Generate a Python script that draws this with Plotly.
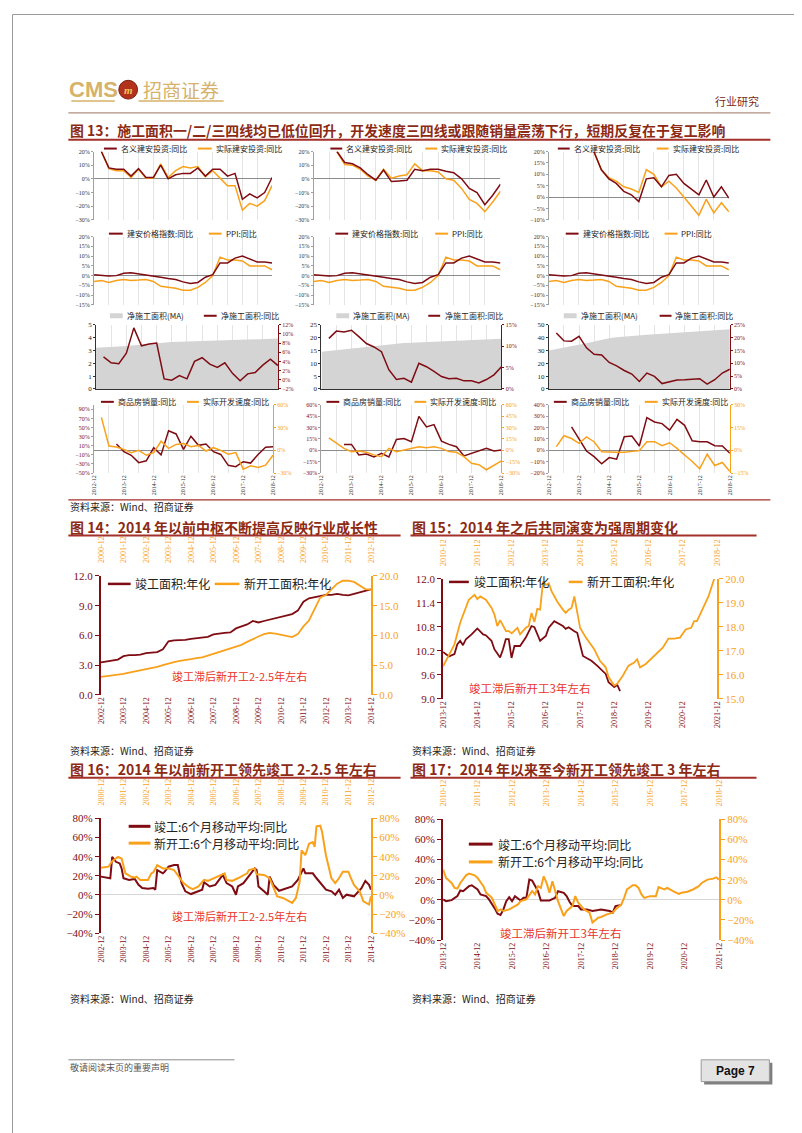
import plotly.graph_objects as go
import pandas as pd

W, H = 802, 1133
DR = "#7E0C12"
OR = "#F9A11B"
GA = "#D4D4D4"
TC = "#8C2A14"
RC = "#A4302A"
AC = "#E8332A"
NUM = "Liberation Serif"
CJK = "Noto Sans CJK SC"

# ---------------- data: figure 13 (quarterly, 2012-12 .. 2018-12) ----------------
def qdates(start, n):
    return [d.strftime("%Y-%m") for d in pd.date_range(start, periods=n, freq="3MS")]

Q = qdates("2012-12-01", 25)
Q_GRID = Q[::2]
Q_TEXT = [q if q.endswith("-12") else "" for q in Q_GRID]

INV_NOM_L = [20, 8, 7, 7, 2, 7.5, 1, 1, 10, 0, 3, 4, 4, 8, 2, 7, 7, 2, 4, -15, -11, -14, -10, 1]
INV_REAL_L = [20, 7.5, 6, 6, 1, 7, 0.5, 0.5, 11, 1, 6, 9, 8, 9, 1.5, 6, 0.5, -5, -5, -23, -18, -20, -16, -5]
INV_NOM_M = [20, 12, 11, 8, 3, -1, 6.5, -2, -1.5, -1, 7, 6, 7, 7, 5.5, 4.5, 0, -7, -10, -19, -12, -4]
INV_REAL_M = [20, 10.5, 10, 7, 2, -1, 7, 0.5, 2, 3, 11, 6, 6, 5, 0, -1, -7, -15, -18, -24, -17, -9]
INV_NOM_R = [20, 12, 8, 6, 2.5, 1, -2, 8, 8.5, 4.5, 9.5, 10, 6, 3.5, 1, 7.5, 0, 4.5, -0.5]
INV_REAL_R = [20, 12, 8.5, 7, 4.5, 3.5, 2, 12, 10, 4.5, 7, 4, 0, -4, -8, -1, -7, -2.5, -6.5]

PRICE = [0.5, 0.3, -0.2, 0, 1.2, 1.5, 1, 0.5, 0, -0.8, -1.5, -2, -3.2, -4, -3.5, -0.8, 0.5, 6.5, 6.5, 9, 10, 8.5, 7, 7, 6.5]
PPI = [-3, -2.5, -3.5, -2.5, -2, -2.5, -2.3, -2, -3, -5.5, -6, -6.5, -7.5, -7.5, -6, -3.5, 0, 9.5, 8, 8, 7.5, 5, 5, 5, 3]

NET_MA_L = [3.2, 3.22, 3.25, 3.3, 3.35, 3.4, 3.45, 3.55, 3.6, 3.65, 3.66, 3.67, 3.68, 3.7, 3.72, 3.74, 3.76, 3.78, 3.8, 3.82, 3.84, 3.86, 3.88, 3.9, 3.92]
NET_YOY_L = [5.0, 3.7, 3.5, 5.8, 11.3, 7.4, 7.8, 8.0, 0.2, -0.1, 0.9, 0.2, 4.0, 4.8, 3.4, 2.7, 3.7, 1.4, -0.2, 1.3, 1.6, 3.2, 4.5, 3.1]
NET_MA_M = [14.5, 14.8, 15.1, 15.4, 15.7, 16.0, 16.3, 16.7, 17.1, 17.4, 17.7, 17.9, 18.0, 18.1, 18.2, 18.3, 18.5, 18.6, 18.7, 18.8, 18.9, 19.0, 19.2, 19.3, 19.5]
NET_YOY_M = [11.8, 13.5, 13.3, 13.7, 12.2, 10.6, 9.8, 8.7, 4.5, 2.2, 2.5, 1.6, 6.0, 5.2, 4.1, 2.9, 2.4, 2.5, 1.9, 1.9, 1.4, 2.2, 3.3, 5.2]
NET_MA_R = [30, 31, 32, 33, 34, 35.5, 37, 38.5, 39.5, 40.2, 40.8, 41.3, 41.8, 42.2, 42.6, 43, 43.4, 43.8, 44.2, 44.6, 45, 45.3, 45.6, 46, 46.5]
NET_YOY_R = [21.8, 18.7, 18.6, 20.5, 16.0, 13.5, 13.2, 10.3, 9.0, 7.2, 5.8, 2.9, 6.2, 4.9, 2.1, 2.9, 3.5, 3.6, 3.8, 4.0, 1.9, 3.6, 6.2, 7.7]

SALES_L = [14, -3, -11, -27, -23, 5.6, -10, 43, 36, 2, 31, 11, 14, -3, -9, -33, -36, -25, -28, -9, 7, 7.7]
DEV_L = [43.5, 5.7, 4.3, 1.3, -3, 0, -6.5, -3, 12, 2.6, 7.8, 9, 4.8, 6.5, -0.9, 3.5, 0, -5.2, -3, -24.8, -20.4, -22.6, -19.6, -6.5]
SALES_M = [7.8, 7.8, -6, -5, -8.7, -4, -8.7, 14.3, 15.6, 11.3, 44.8, 30.9, 33.9, 12.2, 7.8, 4.8, -7.4, -3.9, -0.9, 2.6, -0.9, 0.4]
DEV_M = [16.5, 9, 2.6, -1.7, -0.9, -2.6, -6, -8.3, 2.6, -1.7, 0.4, 2.6, 4.8, 3.5, 4.8, 2.6, -1.7, -2.6, -8.3, -17, -19, -25.6, -20, -13.9]
SALES_R = [20.6, 10.4, -0.6, -5.5, -11.9, -6.4, -7.8, 11.9, 12.5, 3.8, 28.7, 24.9, 23.5, 17.7, 27.2, 22, 8.4, 7.5, 7.5, 4.1, 3.8, -2.6]
DEV_R = [2.4, 9.6, 7.8, 4.6, 8.9, 5.7, -0.9, -1.3, -1.3, -1.3, -0.9, -0.2, 5.7, 5.7, 3, 5, 1.3, -3, -7.4, -12.2, -2.6, -10, -8, -13.9]

# ---------------- data: figure 14 ----------------
Q14_COMP = qdates("2002-12-01", 49)
Q14_NEW = qdates("2000-12-01", 49)
COMP14 = [3.27, 3.35, 3.45, 3.55, 3.9, 4.0, 4.0, 4.05, 4.2, 4.25, 4.3, 4.6, 5.4, 5.5, 5.5, 5.55, 5.65, 5.7, 5.75, 5.85,
          6.1, 6.2, 6.25, 6.3, 6.7, 6.9, 7.1, 7.45, 7.3, 7.45, 7.6, 7.7, 7.9, 8.05, 8.15, 8.5, 9.4, 9.75, 9.85, 10.0,
          10.1, 10.1, 10.2, 10.1, 10.05, 10.2, 10.35, 10.5, 10.65]
NEW14 = [3.0, 3.1, 3.2, 3.35, 3.5, 3.7, 3.9, 4.05, 4.2, 4.45, 4.7, 5.0, 5.3, 5.5, 5.7, 5.9, 6.0, 6.15, 6.3, 6.6,
         6.9, 7.2, 7.5, 7.75, 8.0, 8.4, 8.9, 9.4, 9.8, 10.2, 10.4, 10.3, 10.1, 10.0, 9.7, 10.2, 11.5, 12.5, 14.6, 16.4,
         16.8, 17.8, 18.7, 19.2, 19.2, 19.0, 18.4, 17.8, 17.7]
T14_BOTTOM = [f"{y}-12" for y in range(2002, 2015)]
T14_TOP = [f"{y}-12" for y in range(2000, 2013)]

# ---------------- data: figure 15 ----------------
D15_COMP = ["2013-12", "2014-02", "2014-04", "2014-05", "2014-06", "2014-07", "2014-08", "2014-10", "2014-12", "2015-02",
            "2015-03", "2015-05", "2015-06", "2015-08", "2015-09", "2015-10", "2015-11", "2015-12", "2016-01", "2016-03",
            "2016-05", "2016-07", "2016-08", "2016-10", "2016-12", "2017-01", "2017-03", "2017-05", "2017-06", "2017-07",
            "2017-08", "2017-10", "2017-11", "2017-12", "2018-01", "2018-04", "2018-06", "2018-09", "2018-10", "2018-12",
            "2019-01", "2019-02"]
V15_COMP = [10.17, 10.06, 10.12, 10.36, 10.45, 10.34, 10.49, 10.61, 10.76, 10.61,
            10.59, 10.45, 10.24, 10.03, 10.24, 10.49, 10.49, 10.02, 10.32, 10.32,
            10.53, 10.82, 10.79, 10.45, 10.57, 10.78, 10.94, 10.86, 10.82, 10.75,
            10.79, 10.69, 10.65, 10.36, 10.07, 9.95, 9.83, 9.62, 9.41, 9.29,
            9.35, 9.19]
D15_NEW = ["2010-12", "2011-02", "2011-04", "2011-06", "2011-08", "2011-09", "2011-11", "2011-12", "2012-01", "2012-03",
           "2012-05", "2012-06", "2012-07", "2012-08", "2012-10", "2012-11", "2012-12", "2013-02", "2013-03", "2013-05",
           "2013-06", "2013-07", "2013-08", "2013-09", "2013-10", "2013-11", "2013-12", "2014-01", "2014-02", "2014-04",
           "2014-06", "2014-07", "2014-08", "2014-09", "2014-10", "2014-11", "2014-12", "2015-02", "2015-05", "2015-07",
           "2015-09", "2015-10", "2015-12", "2016-01", "2016-03", "2016-05", "2016-07", "2016-08", "2016-09", "2016-11",
           "2017-02", "2017-05", "2017-07", "2017-09", "2017-11", "2018-01", "2018-03", "2018-04", "2018-05", "2018-07",
           "2018-09", "2018-11"]
V15_NEW = [16.35, 16.8, 17.27, 18.17, 18.79, 19.13, 19.34, 19.16, 19.27, 19.13,
           18.79, 18.51, 18.03, 18.28, 17.82, 17.82, 17.73, 17.96, 17.69, 17.96,
           18.03, 18.58, 18.2, 18.75, 18.72, 19.89, 19.75, 19.82, 19.48, 19.06,
           18.72, 18.58, 18.72, 18.79, 19.27, 18.58, 17.96, 17.55, 17.07, 16.58,
           16.31, 15.9, 15.55, 15.62, 15.96, 16.38, 16.51, 16.65, 16.31, 16.45,
           16.79, 17.13, 17.51, 17.51, 17.55, 17.89, 17.96, 18.24, 18.24, 18.72,
           19.27, 20.0]
T15_BOTTOM = [f"{y}-12" for y in range(2013, 2022)]
T15_TOP = [f"{y}-12" for y in range(2010, 2019)]

# ---------------- data: figure 16 ----------------
D16_COMP = ["2002-12", "2003-03", "2003-05", "2003-06", "2003-08", "2003-10", "2003-11", "2003-12", "2004-03", "2004-06",
            "2004-08", "2004-10", "2005-01", "2005-04", "2005-05", "2005-06", "2005-09", "2005-10", "2005-12", "2006-03",
            "2006-05", "2006-07", "2006-09", "2006-12", "2007-03", "2007-06", "2007-07", "2007-10", "2008-01", "2008-05",
            "2008-07", "2008-10", "2008-12", "2009-01", "2009-04", "2009-08", "2009-10", "2009-11", "2009-12", "2010-03",
            "2010-05", "2010-06", "2010-08", "2010-11", "2011-03", "2011-06", "2011-09", "2011-12", "2012-01", "2012-05",
            "2012-07", "2012-09", "2012-12", "2013-03", "2013-05", "2013-07", "2013-09", "2013-11", "2014-03", "2014-07",
            "2014-09", "2014-11", "2014-12"]
V16_COMP = [19.1, 18.1, 17.4, 39.8, 34.6, 32.9, 27.7, 17.4, 15.7, 16.7,
            10.5, 7.1, 6.4, 7.1, 5.4, 26.0, 22.6, 24.3, 29.5, 31.2,
            31.2, 12.3, 3.7, 0.9, 3.0, 5.4, 13.3, 8.8, 10.5, 20.9,
            12.3, 8.8, 0.2, 8.8, 12.3, 22.6, 27.7, 26.0, 8.8, 3.7,
            0.2, 19.1, 10.5, 4.3, 7.1, 8.8, 15.7, 27.7, 22.6, 22.6,
            17.4, 12.3, 5.4, 3.7, 0.2, 5.4, -3.2, 0.2, -1.5, 7.1,
            14.7, 10.5, 5.4]
D16_NEW = ["2000-12", "2001-04", "2001-06", "2001-09", "2001-11", "2002-01", "2002-04", "2002-06", "2002-07", "2002-09",
           "2003-01", "2003-03", "2003-04", "2003-06", "2003-09", "2003-12", "2004-03", "2004-05", "2004-08", "2004-11",
           "2005-01", "2005-04", "2005-07", "2005-09", "2005-12", "2006-04", "2006-06", "2006-07", "2006-10", "2007-01",
           "2007-06", "2007-07", "2007-10", "2007-11", "2008-03", "2008-06", "2008-08", "2008-10", "2009-01", "2009-03",
           "2009-06", "2009-08", "2009-10", "2009-11", "2010-01", "2010-03", "2010-05", "2010-06", "2010-07", "2010-09",
           "2010-10", "2010-12", "2011-03", "2011-05", "2011-07", "2011-09", "2011-12", "2012-01", "2012-03", "2012-06",
           "2012-08", "2012-11", "2012-12"]
V16_NEW = [28.4, 29.5, 35.3, 39.8, 38.0, 22.6, 19.1, 18.1, 19.1, 15.7,
           15.7, 22.6, 23.6, 31.2, 27.7, 27.7, 26.0, 20.9, 12.3, 7.8,
           6.1, 8.8, 15.7, 14.7, 17.4, 20.9, 22.6, 15.7, 14.7, 17.4,
           22.6, 26.0, 27.7, 21.5, 20.9, 17.4, 8.8, -1.5, -3.2, -4.9,
           -8.4, -3.2, 14.0, 46.6, 41.5, 53.5, 55.2, 50.1, 71.7, 72.4,
           65.5, 41.5, 17.4, 12.3, 17.4, 24.3, 24.3, 19.1, 10.5, 3.7,
           -6.7, -10.1, -1.5]

# ---------------- data: figure 17 ----------------
D17_COMP = ["2013-12", "2014-01", "2014-03", "2014-05", "2014-06", "2014-07", "2014-09", "2014-10", "2014-12", "2015-01",
            "2015-03", "2015-04", "2015-06", "2015-07", "2015-08", "2015-09", "2015-10", "2015-11", "2015-12", "2016-01",
            "2016-03", "2016-04", "2016-05", "2016-06", "2016-07", "2016-08", "2016-09", "2016-10", "2016-12", "2017-01",
            "2017-03", "2017-04", "2017-06", "2017-07", "2017-08", "2017-09", "2017-11", "2017-12", "2018-02", "2018-04",
            "2018-06", "2018-07", "2018-10", "2018-11", "2018-12", "2019-02"]
V17_COMP = [0.4, -1.3, -0.3, 3.7, 9.3, 8.6, 13.6, 14.5, 10.3, 5.3,
            3.7, 0.4, -8.5, -13.8, -15.1, -9.5, -1.3, 2.7, -1.3, 3.7,
            -0.6, 2.0, 2.0, 20.1, 19.1, 13.6, 8.6, -0.6, -0.6, -0.6,
            2.0, 8.6, 7.0, 3.7, -1.9, -6.2, -6.2, -9.5, -9.5, -11.1,
            -10.1, -9.5, -11.1, -12.8, -6.2, -5.2]
D17_NEW = ["2010-12", "2011-01", "2011-03", "2011-04", "2011-05", "2011-06", "2011-08", "2011-09", "2011-11", "2011-12",
           "2012-02", "2012-03", "2012-05", "2012-06", "2012-07", "2012-08", "2012-09", "2012-11", "2012-12", "2013-02",
           "2013-03", "2013-05", "2013-06", "2013-07", "2013-08", "2013-09", "2013-10", "2013-11", "2013-12", "2014-01",
           "2014-02", "2014-03", "2014-04", "2014-06", "2014-07", "2014-09", "2014-10", "2014-11", "2015-01", "2015-03",
           "2015-04", "2015-06", "2015-07", "2015-09", "2015-11", "2015-12", "2016-02", "2016-03", "2016-04", "2016-06",
           "2016-07", "2016-08", "2016-09", "2016-10", "2016-12", "2017-02", "2017-03", "2017-05", "2017-06", "2017-08",
           "2017-10", "2017-11", "2018-01", "2018-03", "2018-05", "2018-06", "2018-08", "2018-10", "2018-11", "2018-12"]
V17_NEW = [30.0, 21.8, 16.8, 11.9, 11.2, 16.8, 24.4, 26.1, 24.4, 21.8,
           13.6, 7.0, 2.0, -4.5, -11.1, -9.5, -11.1, -9.5, -7.8, -4.5,
           -1.3, 0.4, 4.7, 8.6, 5.3, 13.6, 11.9, 23.4, 16.8, 7.0,
           18.5, 8.6, -1.3, -16.1, -11.1, -6.2, 3.7, -2.9, -9.5, -12.8,
           -22.6, -17.7, -17.0, -14.4, -12.8, -9.5, -4.5, 2.0, 10.3, 14.5,
           14.5, 11.9, 5.3, 2.0, 3.7, 3.7, 12.6, 10.3, 11.9, 8.6,
           6.0, 7.0, 8.0, 10.3, 13.6, 16.8, 20.1, 21.1, 22.4, 20.1]

# ---------------- texts ----------------
T13 = "图 13：施工面积一/二/三四线均已低位回升，开发速度三四线或跟随销量震荡下行，短期反复在于复工影响"
T14 = "图 14：2014 年以前中枢不断提高反映行业成长性"
T15 = "图 15：2014 年之后共同演变为强周期变化"
T16 = "图 16：2014 年以前新开工领先竣工 2-2.5 年左右"
T17 = "图 17：2014 年以来至今新开工领先竣工 3 年左右"
SRC = "资料来源：Wind、招商证券"

# ---------------- helpers ----------------
PX = lambda x: x / W
PY = lambda y: 1 - y / H

layout = dict(width=W, height=H, autosize=False, margin=dict(l=0, r=0, t=0, b=0),
              paper_bgcolor="white", plot_bgcolor="white", showlegend=False, hovermode=False)
shapes, annos, traces = [], [], []
cnt = {"x": 0, "y": 0}


def new_axis(kind, **kw):
    cnt[kind] += 1
    n = cnt[kind]
    ref = kind if n == 1 else f"{kind}{n}"
    key = f"{kind}axis" if n == 1 else f"{kind}axis{n}"
    layout[key] = kw
    return ref, key


def line_trace(x, y, xr, yr, color, width=1.5):
    traces.append(go.Scatter(x=x, y=y, xaxis=xr, yaxis=yr, mode="lines",
                             line=dict(color=color, width=width), hoverinfo="skip"))


def area_trace(x, y, xr, yr):
    traces.append(go.Scatter(x=x, y=y, xaxis=xr, yaxis=yr, mode="lines", fill="tozeroy",
                             fillcolor=GA, line=dict(color=GA, width=0), hoverinfo="skip"))


def text(x, y, s, size=10, color="#222", family=CJK, anchor="left", yanchor="middle"):
    annos.append(dict(text=s, x=PX(x), y=PY(y), xref="paper", yref="paper", xanchor=anchor,
                      yanchor=yanchor, showarrow=False, font=dict(size=size, color=color, family=family)))


def hline(x0, x1, y, color, width=1):
    shapes.append(dict(type="line", xref="paper", yref="paper", x0=PX(x0), x1=PX(x1), y0=PY(y), y1=PY(y),
                       line=dict(color=color, width=width)))


def legend_item(x0, x1, y, color, s, tx, size=8, lw=2):
    hline(x0, x1, y, color, lw)
    text(tx, y, s, size=size, color="#222")


def small_x(x0, x1, labels=False, baseline=False):
    return dict(domain=[PX(x0), PX(x1)], type="date", range=[Q[0], Q[-1]], tickvals=Q_GRID,
                ticktext=Q_TEXT, showticklabels=labels, tickangle=-90, ticks="",
                tickfont=dict(family=NUM, size=6, color="#333"), showgrid=True, gridcolor="#E4E4E4",
                gridwidth=1, zeroline=False, showline=baseline, linecolor="#333", linewidth=1)


def pct_y(top, bottom, lo, hi, step, color="#333", zero=True, linecolor="#A0A0A0"):
    return dict(domain=[PY(bottom), PY(top)], range=[lo, hi], tick0=lo, dtick=step, ticksuffix="%",
                showgrid=False, zeroline=zero, zerolinecolor="#8C8C8C", zerolinewidth=1,
                showline=True, linecolor=linecolor, linewidth=1, ticks="outside", ticklen=2,
                tickcolor=linecolor, tickfont=dict(family=NUM, size=6, color=color))


# ---------------- figure 13 rows ----------------
def single_panel(x0, x1, top, bottom, lo, hi, step):
    xr, xk = new_axis("x", **small_x(x0, x1))
    yr, yk = new_axis("y", **pct_y(top, bottom, lo, hi, step))
    layout[xk]["anchor"] = yr
    layout[yk]["anchor"] = xr
    return xr, yr


R1 = (139, 208)
for (x0, x1, lo, hi, step, k, nom, real) in [
        (83, 263, -30, 20, 10, 1, INV_NOM_L, INV_REAL_L),
        (305, 494, -30, 20, 10, 3, INV_NOM_M, INV_REAL_M),
        (543, 725, -10, 20, 5, 6, INV_NOM_R, INV_REAL_R)]:
    xr, yr = single_panel(x0, x1, R1[0], R1[1], lo, hi, step)
    line_trace(Q[k:], real, xr, yr, OR)
    line_trace(Q[k:], nom, xr, yr, DR)

R2 = (225, 294)
for (x0, x1) in [(83, 263), (305, 494), (543, 725)]:
    xr, yr = single_panel(x0, x1, R2[0], R2[1], -15, 20, 5)
    line_trace(Q, PPI, xr, yr, OR)
    line_trace(Q, PRICE, xr, yr, DR)

R3 = (314, 379)
for (x0, x1, lhi, lstep, rlo, rhi, rstep, ma, yoy) in [
        (85, 269, 5, 1, -2, 12, 2, NET_MA_L, NET_YOY_L),
        (313, 495, 25, 5, 0, 15, 5, NET_MA_M, NET_YOY_M),
        (543, 726, 50, 10, 0, 25, 5, NET_MA_R, NET_YOY_R)]:
    xr, xk = new_axis("x", **small_x(x0, x1, baseline=True))
    yr, yk = new_axis("y", domain=[PY(R3[1]), PY(R3[0])], range=[0, lhi], dtick=lstep, tick0=0,
                      showgrid=False, zeroline=False, showline=True, linecolor="#333", linewidth=1,
                      ticks="outside", ticklen=2, tickcolor="#333",
                      tickfont=dict(family=NUM, size=7, color="#222"))
    yr2, yk2 = new_axis("y", overlaying=yr, side="right", range=[rlo, rhi], tick0=rlo, dtick=rstep,
                        ticksuffix="%", showgrid=False, zeroline=False, showline=True, linecolor=DR,
                        linewidth=1, ticks="outside", ticklen=2, tickcolor=DR,
                        tickfont=dict(family=NUM, size=6, color=DR))
    layout[xk]["anchor"] = yr
    layout[yk]["anchor"] = xr
    layout[yk2]["anchor"] = xr
    area_trace(Q, ma, xr, yr)
    line_trace(Q[1:], yoy, xr, yr2, DR)

R4 = (395, 464)
for (x0, x1, l, r, sales, dev) in [
        (83, 264, (-50, 100, 20), (-30, 60, 30), SALES_L, DEV_L),
        (313, 495, (-30, 60, 15), (-30, 60, 15), SALES_M, DEV_M),
        (543, 726, (-20, 40, 10), (-15, 30, 15), SALES_R, DEV_R)]:
    xr, xk = new_axis("x", **small_x(x0, x1, labels=True))
    yr, yk = new_axis("y", **pct_y(R4[0], R4[1], l[0], l[1], l[2], color=DR))
    yr2, yk2 = new_axis("y", overlaying=yr, side="right", range=[r[0], r[1]], tick0=r[0], dtick=r[2],
                        ticksuffix="%", showgrid=False, zeroline=False, showline=True, linecolor=OR,
                        linewidth=1, ticks="outside", ticklen=2, tickcolor=OR,
                        tickfont=dict(family=NUM, size=6, color=OR))
    layout[xk]["anchor"] = yr
    layout[yk]["anchor"] = xr
    layout[yk2]["anchor"] = xr
    line_trace(Q[3:], sales, xr, yr, DR)
    line_trace(Q[1:], dev, xr, yr2, OR)


# ---------------- figures 14 - 17 ----------------
def big_panel(x0, x1, top, bottom, b_ticks, t_ticks, ly, ry):
    xr, xk = new_axis("x", domain=[PX(x0), PX(x1)], type="date", range=[b_ticks[0], b_ticks[-1]],
                      tickvals=b_ticks, ticktext=b_ticks, tickangle=-90, ticks="",
                      tickfont=dict(family=NUM, size=8, color=DR), showgrid=False, zeroline=False,
                      showline=False)
    yr, yk = new_axis("y", domain=[PY(bottom), PY(top)], **ly)
    xr2, xk2 = new_axis("x", type="date", overlaying=xr, side="top", range=[t_ticks[0], t_ticks[-1]],
                        tickvals=t_ticks, ticktext=t_ticks, tickangle=-90, ticks="",
                        tickfont=dict(family=NUM, size=8, color=OR), showgrid=False, zeroline=False,
                        showline=False, ticklabelstandoff=12)
    yr2, yk2 = new_axis("y", overlaying=yr, side="right", **ry)
    layout[xk]["anchor"] = yr
    layout[yk]["anchor"] = xr
    layout[xk2]["anchor"] = yr
    layout[yk2]["anchor"] = xr
    return xr, yr, xr2, yr2


def val_axis(lo, hi, step, color, fmt=None, suffix="", zero=False):
    d = dict(range=[lo, hi], tick0=lo, dtick=step, showgrid=False, zeroline=zero, zerolinecolor="#D6D6D6",
             zerolinewidth=1, showline=True, linecolor=color, linewidth=2, ticks="outside", ticklen=4,
             tickcolor=color, tickfont=dict(family=NUM, size=11, color=color), ticksuffix=suffix)
    if fmt:
        d["tickformat"] = fmt
    return d


xr, yr, xr2, yr2 = big_panel(90, 363, 568, 688, T14_BOTTOM, T14_TOP,
                             val_axis(0, 12, 3, DR, ".1f"), val_axis(0, 20, 5, OR, ".1f"))
line_trace(Q14_COMP, COMP14, xr, yr, DR, 1.8)
line_trace(Q14_NEW, NEW14, xr2, yr2, OR, 1.8)

xr, yr, xr2, yr2 = big_panel(436, 713, 571, 692, T15_BOTTOM, T15_TOP,
                             val_axis(9, 12, 0.6, DR, ".1f"), val_axis(15, 20, 1, OR, ".1f"))
line_trace(D15_COMP, V15_COMP, xr, yr, DR, 1.8)
line_trace(D15_NEW, V15_NEW, xr2, yr2, OR, 1.8)

xr, yr, xr2, yr2 = big_panel(90, 363, 813, 929, T14_BOTTOM, T14_TOP,
                             val_axis(-40, 80, 20, DR, suffix="%", zero=True),
                             val_axis(-40, 80, 20, OR, suffix="%"))
line_trace(D16_COMP, V16_COMP, xr, yr, DR, 2)
line_trace(D16_NEW, V16_NEW, xr2, yr2, OR, 2)

xr, yr, xr2, yr2 = big_panel(436, 715, 814, 936, T15_BOTTOM, T15_TOP,
                             val_axis(-40, 80, 20, DR, suffix="%", zero=True),
                             val_axis(-40, 80, 20, OR, suffix="%"))
line_trace(D17_COMP, V17_COMP, xr, yr, DR, 2)
line_trace(D17_NEW, V17_NEW, xr2, yr2, OR, 2)

# ---------------- legends (figure 13) ----------------
for (a, b, c, d, e, f, y, s1, s2, c1, c2) in [
        (93, 106, 108, 188, 202, 204, 136, "名义建安投资:同比", "实际建安投资:同比", DR, OR),
        (322, 334, 336, 418, 430, 432, 136, "名义建安投资:同比", "实际建安投资:同比", DR, OR),
        (552, 564, 566, 652, 664, 666, 136, "名义建安投资:同比", "实际建安投资:同比", DR, OR),
        (98, 112, 114, 199, 212, 214, 222, "建安价格指数:同比", "PPI:同比", DR, OR),
        (327, 340, 342, 428, 441, 443, 222, "建安价格指数:同比", "PPI:同比", DR, OR),
        (560, 573, 575, 660, 673, 675, 222, "建安价格指数:同比", "PPI:同比", DR, OR),
        (90, 103, 105, 177, 189, 191, 392, "商品房销量:同比", "实际开发速度:同比", DR, OR),
        (318, 331, 333, 407, 419, 421, 392, "商品房销量:同比", "实际开发速度:同比", DR, OR),
        (548, 561, 563, 640, 653, 655, 392, "商品房销量:同比", "实际开发速度:同比", DR, OR)]:
    legend_item(a, b, y, c1, s1, c)
    legend_item(d, e, y, c2, s2, f)

for (a, b, c, d, e, f) in [(99, 112, 114, 194, 207, 209), (328, 341, 343, 421, 433, 436),
                           (558, 571, 573, 655, 667, 669)]:
    legend_item(a, b, 305, GA, "净施工面积(MA)", c, lw=5)
    legend_item(d, e, 305, DR, "净施工面积:同比", f)

legend_item(97, 120, 576, DR, "竣工面积:年化", 122, size=12, lw=2.5)
legend_item(205, 230, 576, OR, "新开工面积:年化", 233, size=12, lw=2.5)
legend_item(442, 462, 574, DR, "竣工面积:年化", 465, size=12, lw=2.5)
legend_item(563, 577, 574, OR, "新开工面积:年化", 579, size=12, lw=2.5)
legend_item(118, 140, 821, DR, "竣工:6个月移动平均:同比", 142, size=12, lw=3)
legend_item(118, 140, 838, OR, "新开工:6个月移动平均:同比", 142, size=12, lw=3)
legend_item(462, 486, 839, DR, "竣工:6个月移动平均:同比", 489, size=12, lw=3)
legend_item(462, 486, 857, OR, "新开工:6个月移动平均:同比", 489, size=12, lw=3)

text(230, 669, "竣工滞后新开工2-2.5年左右", size=11, color=AC, anchor="center")
text(523, 681, "竣工滞后新开工3年左右", size=11.5, color=AC, anchor="center")
text(230, 912, "竣工滞后新开工2-2.5年左右", size=11, color=AC, anchor="center")
text(555, 929, "竣工滞后新开工3年左右", size=11.5, color=AC, anchor="center")

# ---------------- page furniture ----------------
shapes.append(dict(type="rect", xref="paper", yref="paper", x0=PX(0.5), x1=PX(801.5), y0=PY(1132.5), y1=PY(0.5),
                   line=dict(color="#9A9A9A", width=1)))
text(82, 76, "<b>CMS</b>", size=22, color="#D6B26A", family="Liberation Sans Narrow, Liberation Sans", anchor="center")
shapes.append(dict(type="circle", xref="paper", yref="paper", x0=PX(108), x1=PX(127), y0=PY(86), y1=PY(67),
                   fillcolor="#B3321C", line=dict(color="#7A1E10", width=1)))
text(117.5, 76.5, "<b><i>m</i></b>", size=11, color="#F2C75A", family="Liberation Serif", anchor="center")
text(171, 76, "招商证券", size=19, color="#D6B26A", anchor="center")
hline(60, 104, 88, "#D6B26A", 1.5)
hline(128, 214, 88, "#D6B26A", 1.5)
text(757, 88, "行业研究", size=11, color="#7A2A14", anchor="right")
hline(57, 767, 100, "#B09080", 1.2)

text(57, 117, "<b>" + T13 + "</b>", size=13.9, color=TC)
hline(57, 767, 127, RC, 2)
text(57, 518, "<b>" + T14 + "</b>", size=14, color=TC)
hline(57, 393, 527, RC, 2)
text(403, 518, "<b>" + T15 + "</b>", size=14, color=TC)
hline(403, 753, 527, RC, 2)
text(57, 763, "<b>" + T16 + "</b>", size=14, color=TC)
hline(57, 393, 772, RC, 2)
text(403, 763, "<b>" + T17 + "</b>", size=14, color=TC)
hline(403, 753, 772, RC, 2)

hline(57, 767, 491, RC, 1.2)
text(57, 498, SRC, size=10)
text(57, 744, SRC, size=10)
text(403, 744, SRC, size=10)
text(57, 995, SRC, size=10)
text(403, 995, SRC, size=10)

hline(57, 225, 1057, "#8A8A8A", 1)
text(57, 1065, "敬请阅读末页的重要声明", size=9, color="#555")
shapes.append(dict(type="rect", xref="paper", yref="paper", x0=PX(700), x1=PX(769), y0=PY(1082), y1=PY(1060),
                   fillcolor="#7F7F7F", line=dict(width=0)))
shapes.append(dict(type="rect", xref="paper", yref="paper", x0=PX(697), x1=PX(766), y0=PY(1079), y1=PY(1057),
                   fillcolor="#E3E3E3", line=dict(color="#9A9A9A", width=1)))
text(731.5, 1068, "<b>Page 7</b>", size=12, color="#111", family="Liberation Sans", anchor="center")

layout["shapes"] = shapes
layout["annotations"] = annos

fig = go.Figure(data=traces, layout=layout)
fig.write_html("out.html")
